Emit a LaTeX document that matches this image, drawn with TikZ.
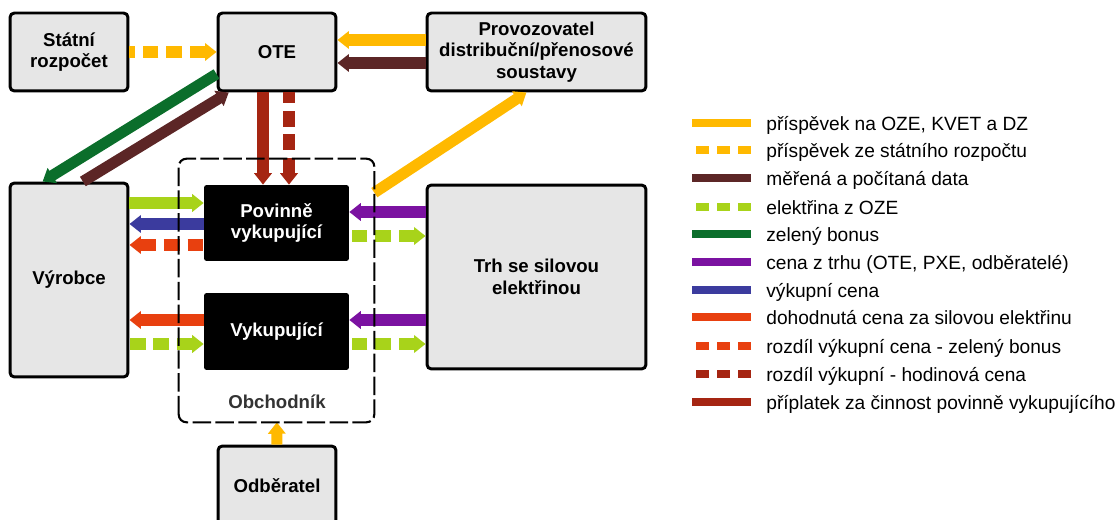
\documentclass[tikz,border=0pt]{standalone}
\usepackage{fontspec}
\setmainfont{Liberation Sans}
\usetikzlibrary{arrows.meta}
\definecolor{zluta}{HTML}{FFB900}
\definecolor{hneda}{HTML}{5C2626}
\definecolor{svetlezelena}{HTML}{A8D31A}
\definecolor{tmavezelena}{HTML}{0B6E2B}
\definecolor{fialova}{HTML}{7B12A1}
\definecolor{modra}{HTML}{3B3B9E}
\definecolor{oranzova}{HTML}{E8400F}
\definecolor{cervena}{HTML}{A52512}
\definecolor{seda}{HTML}{E6E6E6}

\tikzset{
  box/.style={draw, line width=1.7pt, fill=seda, rounded corners=2.5pt, align=center,
    inner sep=0pt, font=\bfseries\fontsize{10.6}{12.2}\selectfont},
  cerny/.style={fill=black, text=white, rounded corners=1.5pt, align=center,
    inner sep=0pt, font=\bfseries\fontsize{10.6}{11.8}\selectfont},
  obal/.style={line width=1.2pt, dash pattern=on 10.5pt off 2.5pt, rounded corners=4.5pt},
  sipka/.style={line width=6.3pt, -{Triangle[length=6.5pt,width=9.8pt]}},
  carka/.style={line width=6.3pt, {Triangle[length=6.5pt,width=9.8pt]}-, dash pattern=on 9pt off 4.5pt},
  legenda/.style={line width=4.6pt},
  legendacarka/.style={line width=4.6pt, dash pattern=on 7.5pt off 4.5pt},
  popis/.style={anchor=base west, inner sep=0pt, font=\fontsize{10.9}{13}\selectfont}
}

\begin{document}
\begin{tikzpicture}[x=0.02cm, y=-0.02cm]

    \useasboundingbox (0,0) rectangle (1117,520);

    % Bloky
    \node[box, minimum width=2.36cm, minimum height=1.56cm] (statni) at (69,52) {Státní\\rozpočet};
    \node[box, minimum width=2.36cm, minimum height=1.56cm] (ote) at (277,52) {OTE};
    \node[box, minimum width=4.38cm, minimum height=1.56cm] (provoz) at (536.5,52) {Provozovatel\\distribuční/přenosové\\soustavy};
    \node[box, minimum width=2.36cm, minimum height=3.88cm] (vyrobce) at (69,280) {Výrobce};
    \node[box, minimum width=4.38cm, minimum height=3.68cm] (trh) at (536.5,277) {Trh se silovou\\elektřinou};
    \node[box, minimum width=2.36cm, minimum height=1.6cm] (odberatel) at (277,486) {Odběratel};
    \node[minimum width=3.9cm, minimum height=5.26cm] (obchodnik) at (276.5,290.5) {};
    \node[font=\bfseries\fontsize{10.6}{12}\selectfont, text=black!80] (obchodniktext) at (277,402) {Obchodník};
    \node[cerny, minimum width=2.9cm, minimum height=1.52cm] (povinne) at (276.5,223) {Povinně\\vykupující};
    \node[cerny, minimum width=2.9cm, minimum height=1.54cm] (vykup) at (276.5,331.5) {Vykupující};

    % Pomocne body pro rovnobezne sipky
    \coordinate (k1) at (263,0);
    \coordinate (k2) at (289,0);
    \coordinate (r1) at (0,40);
    \coordinate (r2) at (0,63);
    \coordinate (r3) at (0,203);
    \coordinate (r4) at (0,224);
    \coordinate (r5) at (0,245);
    \coordinate (r6) at (0,212);
    \coordinate (r7) at (0,236);
    \coordinate (r8) at (0,320);
    \coordinate (r9) at (0,344);

    % Toky kolem OTE
    \draw[carka, zluta] (ote) -- (statni);
    \draw[sipka, zluta] (provoz.west |- r1) -- (ote.east |- r1);
    \draw[sipka, hneda] (provoz.west |- r2) -- (ote.east |- r2);
    \draw[sipka, tmavezelena] (ote.200) -- (vyrobce.105);
    \draw[sipka, hneda] (vyrobce.82) -- (ote.220);
    \draw[sipka, cervena] (ote.south -| k1) -- (povinne.north -| k1);
    \draw[carka, cervena] (povinne.north -| k2) -- (ote.south -| k2);
    \draw[sipka, zluta] (obchodnik.45) -- (provoz.256);
    \draw[sipka, zluta] (odberatel) -- (obchodnik);

    % Vyrobce a obchodnik
    \draw[sipka, svetlezelena] (vyrobce.east |- r3) -- (povinne.west |- r3);
    \draw[sipka, modra] (povinne.west |- r4) -- (vyrobce.east |- r4);
    \draw[carka, oranzova] (vyrobce.east |- r5) -- (povinne.west |- r5);
    \draw[sipka, oranzova] (vykup.west |- r8) -- (vyrobce.east |- r8);
    \draw[carka, svetlezelena] (vykup.west |- r9) -- (vyrobce.east |- r9);

    % Trh a obchodnik
    \draw[sipka, fialova] (trh.west |- r6) -- (povinne.east |- r6);
    \draw[carka, svetlezelena] (trh.west |- r7) -- (povinne.east |- r7);
    \draw[sipka, fialova] (trh.west |- r8) -- (vykup.east |- r8);
    \draw[carka, svetlezelena] (trh.west |- r9) -- (vykup.east |- r9);

    % Ramecek obchodnika
    \draw[obal] (obchodnik.south west) rectangle (obchodnik.north east);

    % Legenda
    \node[popis] (l1) at (766,131) {příspěvek na OZE, KVET a DZ};
    \draw[legenda, zluta] ([xshift=-0.3cm, yshift=0.16cm]l1.base west) -- ++(-59,0);
    \node[popis] (l2) at (766,158) {příspěvek ze státního rozpočtu};
    \draw[legendacarka, zluta] ([xshift=-0.3cm, yshift=0.16cm]l2.base west) -- ++(-59,0);
    \node[popis] (l3) at (766,186) {měřená a počítaná data};
    \draw[legenda, hneda] ([xshift=-0.3cm, yshift=0.16cm]l3.base west) -- ++(-59,0);
    \node[popis] (l4) at (766,215) {elektřina z OZE};
    \draw[legendacarka, svetlezelena] ([xshift=-0.3cm, yshift=0.16cm]l4.base west) -- ++(-59,0);
    \node[popis] (l5) at (766,242) {zelený bonus};
    \draw[legenda, tmavezelena] ([xshift=-0.3cm, yshift=0.16cm]l5.base west) -- ++(-59,0);
    \node[popis] (l6) at (766,270) {cena z trhu (OTE, PXE, odběratelé)};
    \draw[legenda, fialova] ([xshift=-0.3cm, yshift=0.16cm]l6.base west) -- ++(-59,0);
    \node[popis] (l7) at (766,298) {výkupní cena};
    \draw[legenda, modra] ([xshift=-0.3cm, yshift=0.16cm]l7.base west) -- ++(-59,0);
    \node[popis] (l8) at (766,325) {dohodnutá cena za silovou elektřinu};
    \draw[legenda, oranzova] ([xshift=-0.3cm, yshift=0.16cm]l8.base west) -- ++(-59,0);
    \node[popis] (l9) at (766,354) {rozdíl výkupní cena - zelený bonus};
    \draw[legendacarka, oranzova] ([xshift=-0.3cm, yshift=0.16cm]l9.base west) -- ++(-59,0);
    \node[popis] (l10) at (766,382) {rozdíl výkupní - hodinová cena};
    \draw[legendacarka, cervena] ([xshift=-0.3cm, yshift=0.16cm]l10.base west) -- ++(-59,0);
    \node[popis] (l11) at (766,410) {příplatek za činnost povinně vykupujícího};
    \draw[legenda, cervena] ([xshift=-0.3cm, yshift=0.16cm]l11.base west) -- ++(-59,0);
\end{tikzpicture}
\end{document}
